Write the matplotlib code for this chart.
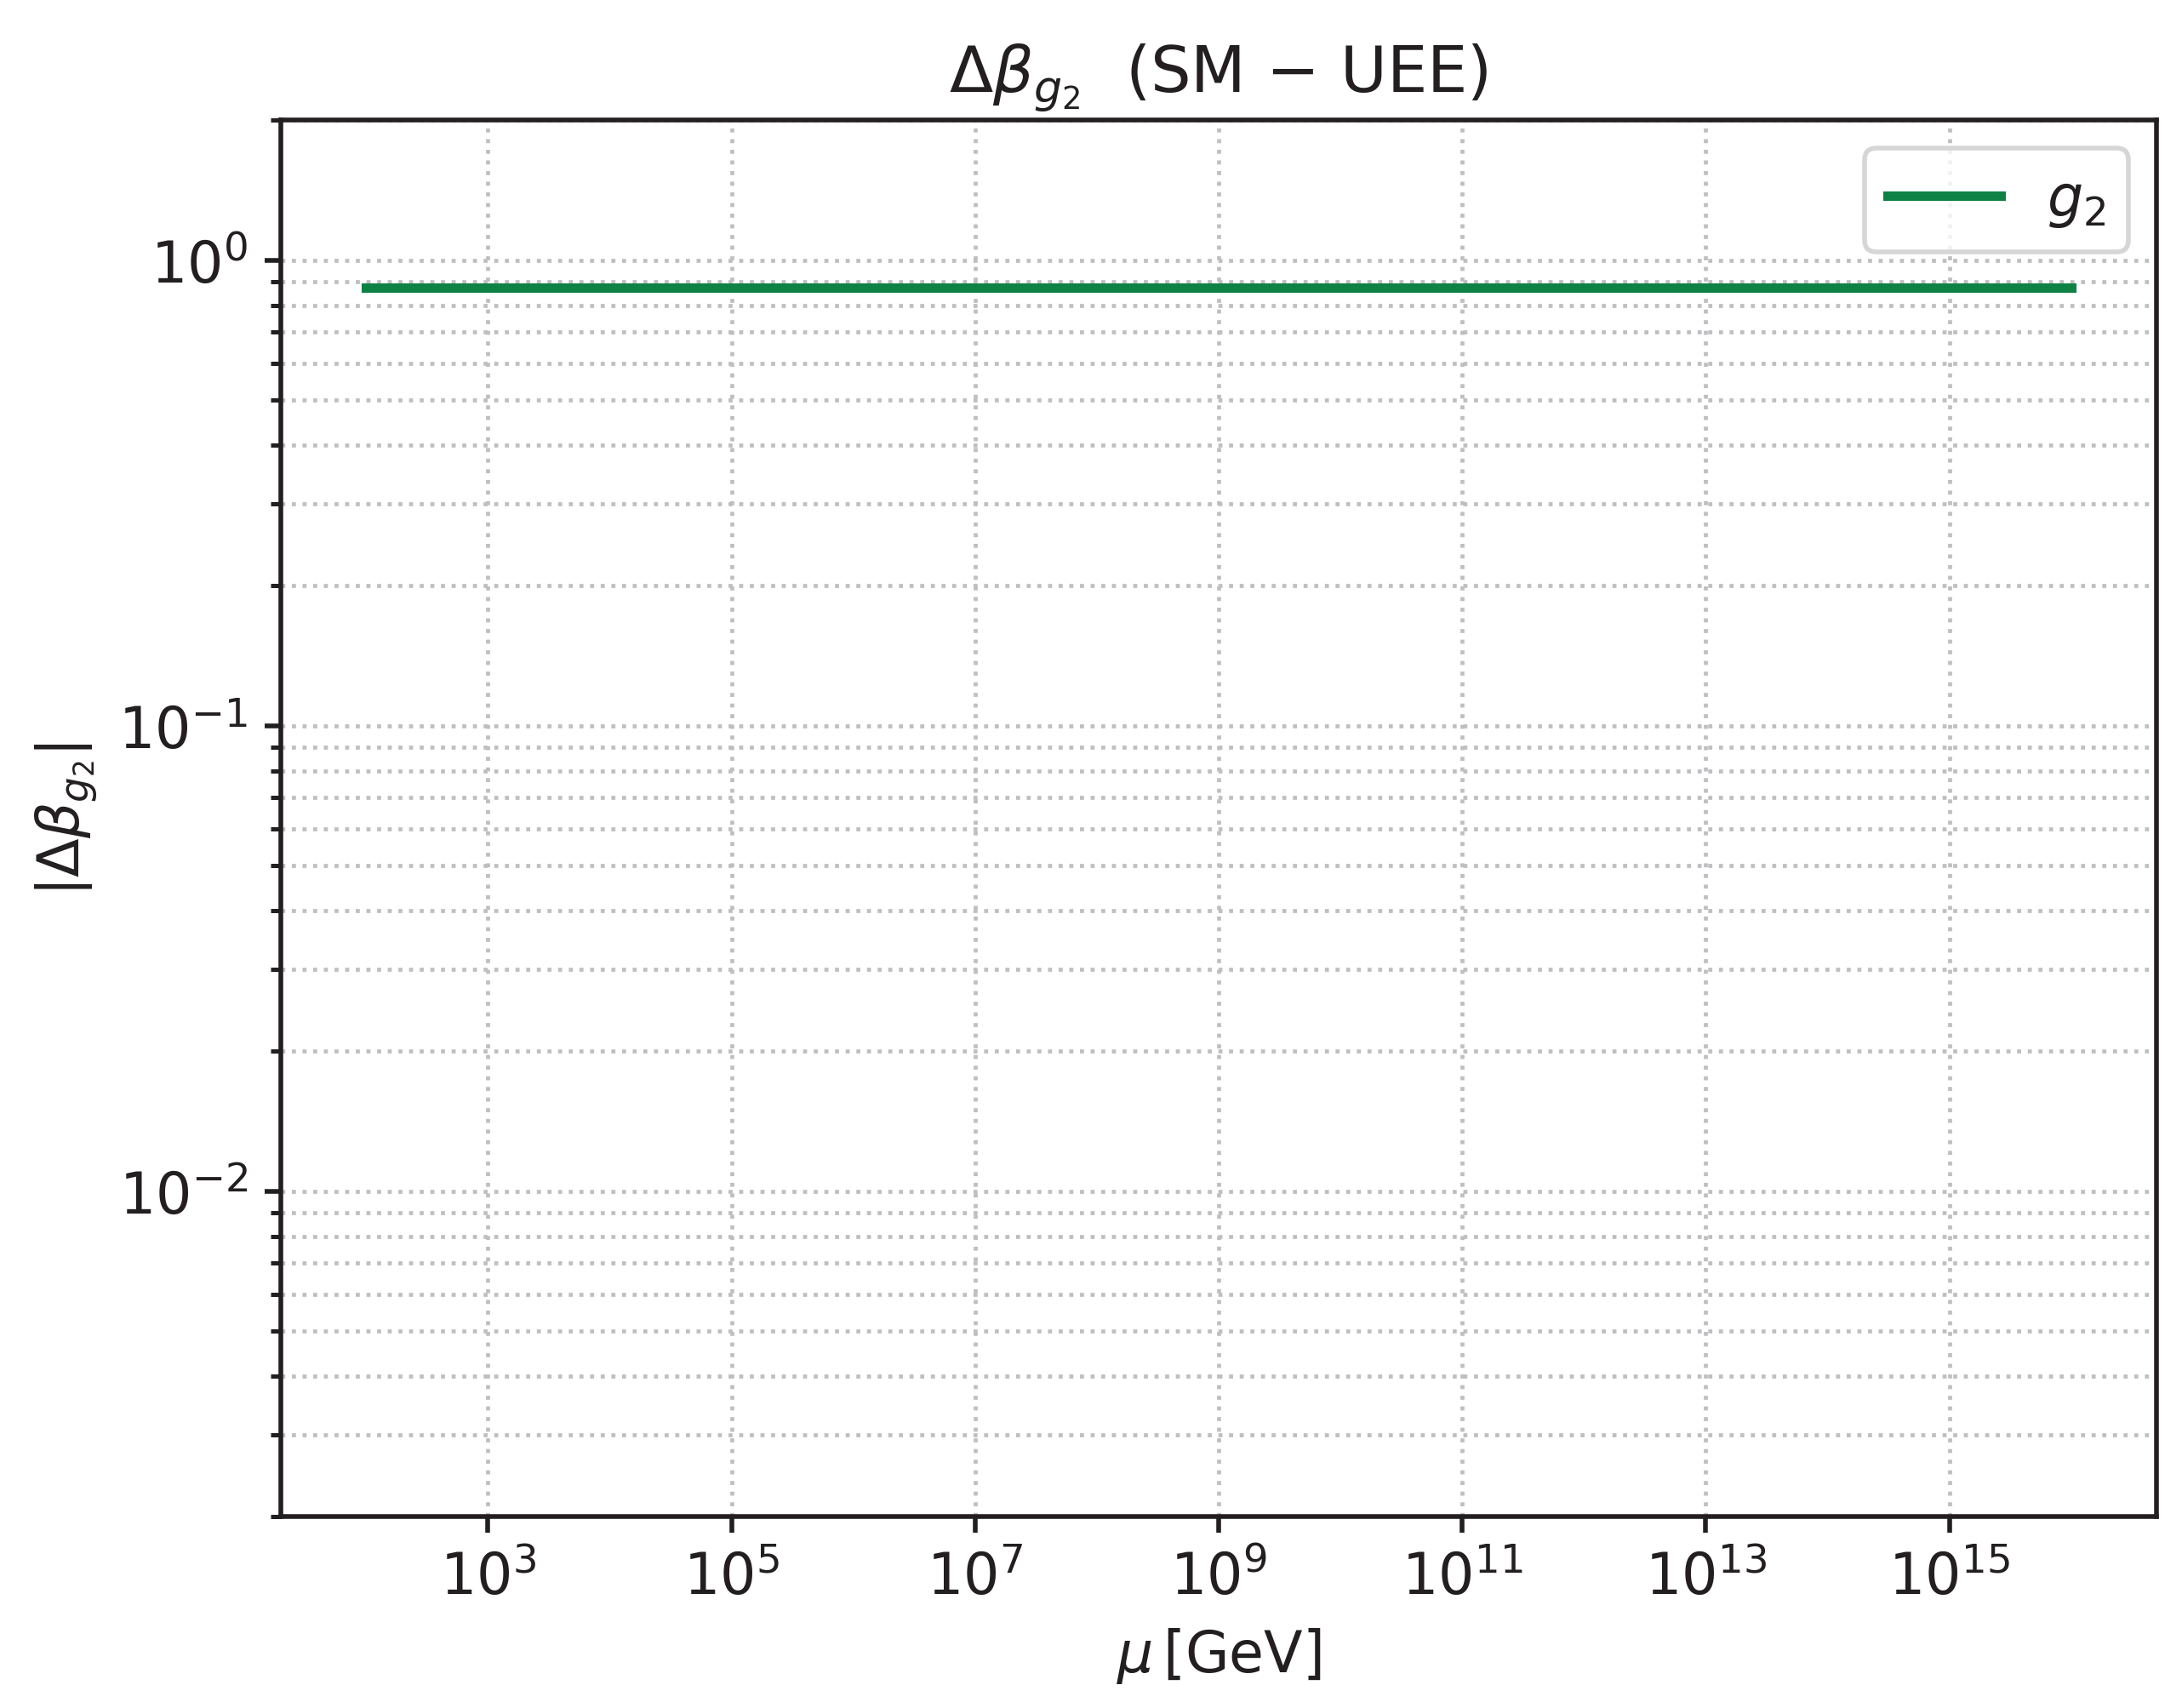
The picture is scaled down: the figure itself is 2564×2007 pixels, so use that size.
import numpy as np
import matplotlib
matplotlib.use("Agg")
import matplotlib.pyplot as plt

mu = [1e2, 1e16]
delta_beta_g2 = [0.871, 0.871]
series_label = r"$g_2$"
x_ticks = [1e3, 1e5, 1e7, 1e9, 1e11, 1e13, 1e15]

plt.rcParams['font.family'] = ['DejaVu Sans']
ink = '#231f20'
plt.rcParams['text.color'] = ink
plt.rcParams['axes.labelcolor'] = ink
plt.rcParams['xtick.color'] = ink
plt.rcParams['ytick.color'] = ink
plt.rcParams['axes.edgecolor'] = ink
plt.rcParams['axes.linewidth'] = 1.0
plt.rcParams['xtick.major.width'] = 1.0
plt.rcParams['ytick.major.width'] = 1.0
plt.rcParams['xtick.minor.width'] = 0.9
plt.rcParams['ytick.minor.width'] = 0.9
plt.rcParams['ytick.minor.size'] = 2.2

W, H = 2564, 2008
fig = plt.figure(figsize=(W/400, H/400), dpi=400)
left, right, top, bottom = 330/W, 2534/W, 1 - 142/H, 1 - 1783/H
ax = fig.add_axes([left, bottom, right-left, top-bottom])
ax.plot(mu, delta_beta_g2, color='#0e8245', lw=2.0, label=series_label)
ax.set_xscale('log')
ax.set_yscale('log')
ax.set_ylim(2e-3, 2)
ax.set_xlim(10**1.3, 10**16.7)
ax.set_xticks(x_ticks)
ax.grid(True, which='both', ls=':', color='#bfbfc2', lw=0.85)
ax.tick_params(labelsize=12)
ax.set_xlabel(r"$\mu\,$[GeV]", fontsize=12)
ax.set_ylabel(r"$|\Delta\beta_{g_2}|$", fontsize=12)
ax.set_title(r"$\Delta\beta_{g_2}$  (SM $-$ UEE)", fontsize=13.5, pad=6)
ax.legend(loc='upper right', fontsize=12)
fig.savefig("out.png", dpi=400)
